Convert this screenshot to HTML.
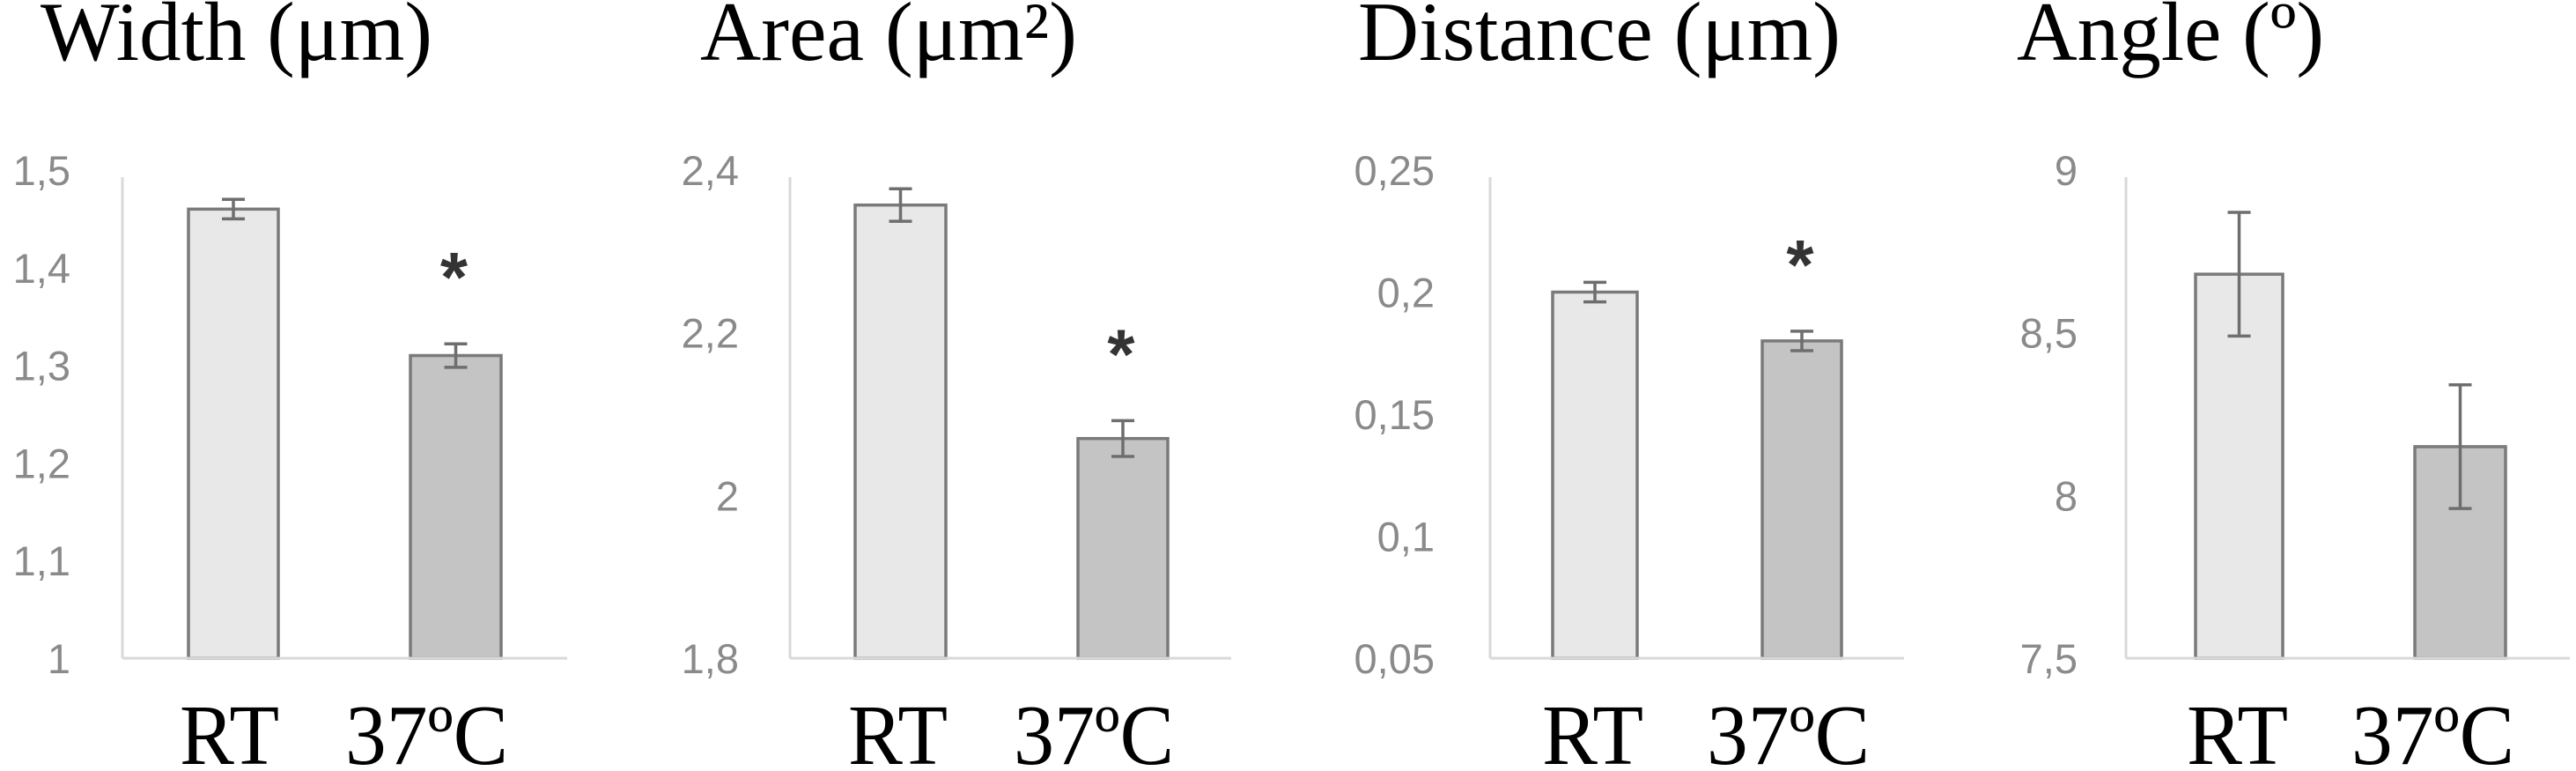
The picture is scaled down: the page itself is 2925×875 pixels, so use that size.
<!DOCTYPE html>
<html><head><meta charset="utf-8"><style>
html,body{margin:0;padding:0;background:#fff;}
svg{display:block;}
</style></head><body>
<svg id="chart" width="2925" height="875" viewBox="0 0 2925 875" xmlns="http://www.w3.org/2000/svg"></svg>
<script>
// Data arrays
const categories = ["RT", "37ºC"];
const titles = ["Width (μm)", "Area (μm²)", "Distance (μm)", "Angle (º)"];
const meansWidth = [1.46, 1.31];
const errsWidth = [0.01, 0.012];
const meansArea = [2.357, 2.07];
const errsArea = [0.02, 0.022];
const meansDistance = [0.2, 0.18];
const errsDistance = [0.004, 0.004];
const meansAngle = [8.68, 8.15];
const errsAngle = [0.19, 0.19];
const ticksWidth = ["1", "1,1", "1,2", "1,3", "1,4", "1,5"];
const ticksArea = ["1,8", "2", "2,2", "2,4"];
const ticksDistance = ["0,05", "0,1", "0,15", "0,2", "0,25"];
const ticksAngle = ["7,5", "8", "8,5", "9"];
const tickValsWidth = [1, 1.1, 1.2, 1.3, 1.4, 1.5];
const tickValsArea = [1.8, 2.0, 2.2, 2.4];
const tickValsDistance = [0.05, 0.1, 0.15, 0.2, 0.25];
const tickValsAngle = [7.5, 8, 8.5, 9];
const significant = [[false, true], [false, true], [false, true], [false, false]];

const NS = "http://www.w3.org/2000/svg";
const svg = document.getElementById("chart");
function mk(tag, attrs, parent) {
  const e = document.createElementNS(NS, tag);
  for (const k in attrs) e.setAttribute(k, attrs[k]);
  (parent || svg).appendChild(e);
  return e;
}
const TOP = 193, BOT = 747;
const layout = [
  {titleX: 46, titleW: 445, tickR: 80, axisX: 139, lineEnd: 644, bars: [[214, 316], [466, 569]], labs: [[204, 113], [392, 185]]},
  {titleX: 795, titleW: 428, tickR: 839, axisX: 897, lineEnd: 1398, bars: [[971, 1074], [1224, 1326]], labs: [[963, 113], [1151, 182]]},
  {titleX: 1542, titleW: 548, tickR: 1629, axisX: 1692, lineEnd: 2162, bars: [[1763, 1859], [2001, 2091]], labs: [[1751, 115], [1938, 185]]},
  {titleX: 2290, titleW: 349, tickR: 2359, axisX: 2414, lineEnd: 2918, bars: [[2493, 2592], [2742, 2845]], labs: [[2483, 115], [2670, 185]]}
];
const panels = [
  {name: "width", means: meansWidth, errs: errsWidth, ticks: ticksWidth, tv: tickValsWidth},
  {name: "area", means: meansArea, errs: errsArea, ticks: ticksArea, tv: tickValsArea},
  {name: "distance", means: meansDistance, errs: errsDistance, ticks: ticksDistance, tv: tickValsDistance},
  {name: "angle", means: meansAngle, errs: errsAngle, ticks: ticksAngle, tv: tickValsAngle}
];
const fills = ["#e8e8e8", "#c4c4c4"];

panels.forEach((p, i) => {
  const L = layout[i];
  const g = mk("g", {});
  
  
  const vmin = p.tv[0], vmax = p.tv[p.tv.length - 1];
  const y = v => BOT - (v - vmin) / (vmax - vmin) * (BOT - TOP);

  const t = mk("text", {x: L.titleX, y: 68, "font-family": "Liberation Serif, serif", "font-size": 95, fill: "#000", textLength: L.titleW, lengthAdjust: "spacingAndGlyphs"}, g);
  t.textContent = titles[i];
  
  

  p.ticks.forEach((lab, k) => {
    const tt = mk("text", {x: L.tickR, y: y(p.tv[k]) + 17, "text-anchor": "end", "font-family": "Liberation Sans, sans-serif", "font-size": 47, fill: "#8a8a8a"}, g);
    tt.textContent = lab;
    
    
  });

  const ax = mk("line", {x1: L.axisX, y1: TOP + 8, x2: L.axisX, y2: BOT, stroke: "#d9d9d9", "stroke-width": 3}, g);
  
  

  p.means.forEach((m, j) => {
    const [x0, x1] = L.bars[j];
    const r = mk("rect", {x: x0, y: y(m), width: x1 - x0, height: BOT - y(m), fill: fills[j], stroke: "#7a7a7a", "stroke-width": 3.5}, g);
    
    
    const cx = (x0 + x1) / 2;
    const e = p.errs[j];
    const eb = mk("path", {d: `M${cx},${y(m + e)}V${y(m - e)}M${cx - 13},${y(m + e)}H${cx + 13}M${cx - 13},${y(m - e)}H${cx + 13}`, stroke: "#6e6e6e", "stroke-width": 3.5, fill: "none"}, g);
    
    
    if (significant[i][j]) {
      const s = mk("text", {x: cx - 2, y: y(m + e) - 48, "text-anchor": "middle", "font-family": "Liberation Sans, sans-serif", "font-size": 80, "font-weight": "bold", fill: "#333"}, g);
      s.textContent = "*";
      
      
    }
    const [lx, lw] = L.labs[j];
    const xl = mk("text", {x: lx, y: 867, "font-family": "Liberation Serif, serif", "font-size": 97, fill: "#000", textLength: lw, lengthAdjust: "spacingAndGlyphs"}, g);
    xl.textContent = categories[j];
    
    
  });

  const bl = mk("line", {x1: L.axisX, y1: BOT, x2: L.lineEnd, y2: BOT, stroke: "#d9d9d9", "stroke-width": 3}, g);
  
  
});
</script>
</body></html>
